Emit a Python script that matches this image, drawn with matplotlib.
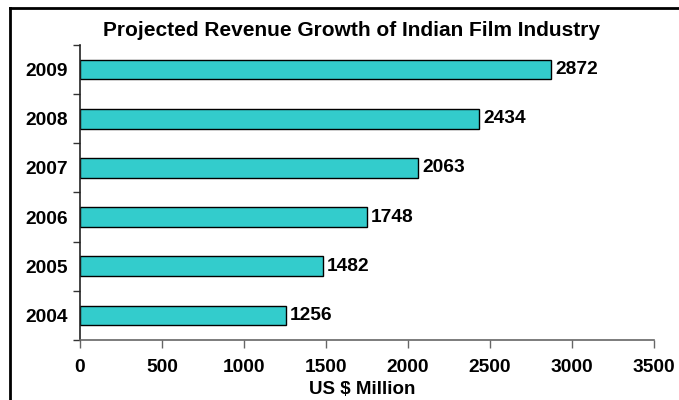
import matplotlib
matplotlib.use("Agg")
import matplotlib.pyplot as plt
from matplotlib.lines import Line2D
import numpy as np

plt.rcParams['font.family'] = ['Liberation Sans', 'DejaVu Sans']
plt.rcParams['font.weight'] = 'bold'

years = ['2004', '2005', '2006', '2007', '2008', '2009']
revenue = [1256, 1482, 1748, 2063, 2434, 2872]
x_ticks = [0, 500, 1000, 1500, 2000, 2500, 3000, 3500]

fig = plt.figure(figsize=(6.79, 4.0), dpi=100)
ax = fig.add_axes([80 / 679, 1 - 340 / 400, 574 / 679, 295 / 400])

pos = np.arange(len(years))
ax.barh(pos, revenue, height=0.4, color='#33CCCC', edgecolor='black', linewidth=1.0)
for p, v in zip(pos, revenue):
    ax.text(v + 25, p, f"{v}", va='center', ha='left', fontsize=13.8, fontweight='bold')

ax.set_xlim(0, 3500)
ax.set_ylim(-0.5, len(years) - 0.5)
ax.set_xticks(x_ticks)
ax.set_xticklabels([str(t) for t in x_ticks], fontsize=13.8, fontweight='bold')
ax.set_yticks(pos)
ax.set_yticklabels(years, fontsize=13.8, fontweight='bold')
ax.tick_params(axis='y', length=0, pad=9)
ax.set_yticks(np.arange(-0.5, len(years), 1.0), minor=True)
ax.tick_params(axis='y', which='minor', length=5, color='#333333', width=1)
ax.tick_params(axis='x', length=6, direction='out', color='#666666', width=1, pad=8)

for s in ['top', 'right']:
    ax.spines[s].set_visible(False)
ax.spines['bottom'].set_color('#666666')
ax.spines['left'].set_color('#222222')
ax.spines['bottom'].set_linewidth(1.2)
ax.spines['left'].set_linewidth(1.2)

fig.text(362 / 679, 1 - 389 / 400, 'US $ Million', ha='center', va='center',
         fontsize=13.5, fontweight='bold')
fig.text(351 / 679, 1 - 30 / 400, 'Projected Revenue Growth of Indian Film Industry',
         ha='center', va='center', fontsize=15, fontweight='bold')

# outer frame (left and top edges visible)
fig.add_artist(Line2D([10 / 679, 10 / 679], [0, 1 - 8 / 400], transform=fig.transFigure,
                      color='black', linewidth=2))
fig.add_artist(Line2D([10 / 679, 1], [1 - 8 / 400, 1 - 8 / 400], transform=fig.transFigure,
                      color='black', linewidth=2))

fig.savefig('out.png', dpi=100)
